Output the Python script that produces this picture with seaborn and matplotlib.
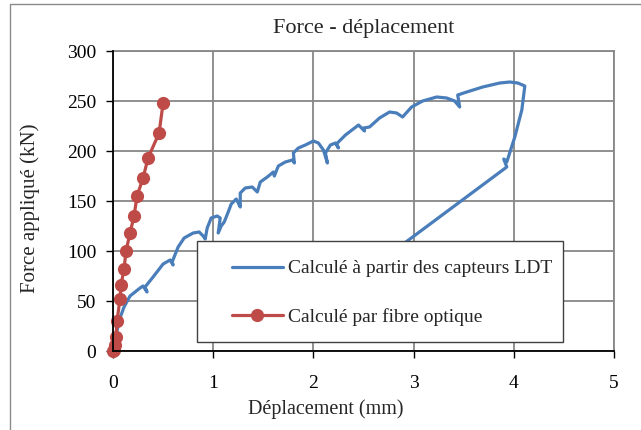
import matplotlib
matplotlib.use('Agg')
import matplotlib.pyplot as plt
import matplotlib.patches as mpatches
import pandas as pd
import seaborn as sns

sns.set_style('ticks')
plt.rcParams['font.family'] = ['Liberation Serif', 'DejaVu Serif']

# curve (LDT sensors)
ldt_disp = [0.00, 0.03, 0.07, 0.11, 0.17, 0.27, 0.30, 0.34, 0.32, 0.40, 0.50, 0.57, 0.60, 0.59,
            0.65, 0.71, 0.80, 0.86, 0.90, 0.92, 0.94, 0.98, 1.04, 1.07, 1.05, 1.08, 1.11, 1.15,
            1.18, 1.23, 1.26, 1.27, 1.27, 1.32, 1.39, 1.42, 1.44, 1.47, 1.54, 1.60, 1.61, 1.65,
            1.72, 1.79, 1.81, 1.80, 1.85, 1.92, 2.00, 2.05, 2.10, 2.14, 2.12, 2.17, 2.22, 2.25,
            2.23, 2.32, 2.45, 2.51, 2.50, 2.56, 2.66, 2.76, 2.83, 2.89, 2.98, 3.09, 3.23, 3.33,
            3.41, 3.46, 3.44, 3.53, 3.69, 3.86, 3.96, 4.04, 4.11, 4.08, 4.01, 3.93, 3.90, 3.93,
            2.91, 2.40]
ldt_force = [0, 16, 33, 44, 55, 63, 65, 59, 64, 74, 87, 91, 86, 89,
             104, 113, 118, 119, 115, 112, 123, 133, 135, 133, 118, 125, 129, 139,
             147, 152, 146, 144, 158, 163, 164, 161, 159, 169, 174, 179, 175, 185,
             189, 191, 188, 198, 203, 206, 210, 208, 201, 188, 198, 206, 208, 203,
             207, 216, 226, 220, 223, 224, 233, 239, 238, 234, 244, 250, 254, 253,
             250, 244, 256, 259, 264, 268, 269, 268, 265, 241, 214, 189, 192, 184,
             108, 70]

# optical fibre points
fibre_disp = [0.00, 0.01, 0.02, 0.03, 0.04, 0.07, 0.08, 0.11, 0.13, 0.17, 0.21, 0.24, 0.30,
              0.35, 0.46, 0.50]
fibre_force = [0, 1, 6, 14, 30, 52, 66, 82, 100, 118, 135, 155, 173, 193, 218, 248]

ldt = pd.DataFrame({'disp': ldt_disp, 'force': ldt_force})
fibre = pd.DataFrame({'disp': fibre_disp, 'force': fibre_force})

blue = '#4A7EBB'
red = '#BE4B48'
grid_col = '#878787'

fig = plt.figure(figsize=(6.41, 4.30), dpi=100)
ax = fig.add_axes([113 / 641, 1 - 351 / 430, 501 / 641, 300 / 430])

sns.lineplot(data=ldt, x='disp', y='force', sort=False, estimator=None, color=blue,
             lw=2.3, ax=ax, label='Calculé à partir des capteurs LDT', zorder=2)
sns.lineplot(data=fibre, x='disp', y='force', sort=False, estimator=None, color=red,
             lw=2.3, marker='o', markersize=9.5, markeredgewidth=0, ax=ax,
             label='Calculé par fibre optique', zorder=2, clip_on=False)

ax.set_xlim(0, 5)
ax.set_ylim(0, 300)
ax.set_xticks(range(0, 6))
ax.set_yticks(range(0, 301, 50))
ax.grid(True, color=grid_col, lw=1.3)
ax.set_axisbelow(True)
for s in ['top', 'right']:
    ax.spines[s].set_color(grid_col)
    ax.spines[s].set_linewidth(1.3)
for s in ['left', 'bottom']:
    ax.spines[s].set_color('black')
    ax.spines[s].set_linewidth(1.3)
    ax.spines[s].set_zorder(4)
ax.tick_params(direction='out', length=5, width=1, colors='black', labelsize=14)
ax.tick_params(axis='y', pad=7)
ax.tick_params(axis='x', pad=12)

ax.set_xlabel('Déplacement (mm)', fontsize=14.5)
ax.set_ylabel('Force appliqué (kN)', fontsize=15)
ax.xaxis.set_label_coords((326 - 113) / 501, -48 / 300)
ax.yaxis.set_label_coords(-73 / 501, (351 - 208) / 300)
ax.set_title('Force - déplacement', fontsize=16, pad=13)

# legend box
box = mpatches.Rectangle((0.168, 0.03), 0.73, 0.337, transform=ax.transAxes,
                         facecolor='white', edgecolor='#404040', lw=1, zorder=3)
ax.add_patch(box)
leg = ax.legend(loc='center left', bbox_to_anchor=((232 - 113) / 501, (351 - 293) / 300),
                frameon=False, fontsize=14, borderpad=0, borderaxespad=0,
                handlelength=2.6, handletextpad=0.3, labelspacing=1.6)
leg.set_zorder(5)

# outer chart border
fig.add_artist(mpatches.Rectangle((10 / 641, -0.1), 1.2, 1.1 - 4 / 430,
                                  transform=fig.transFigure, fill=False,
                                  edgecolor='#8a8a8a', lw=1))

fig.savefig('out.png', dpi=100)
